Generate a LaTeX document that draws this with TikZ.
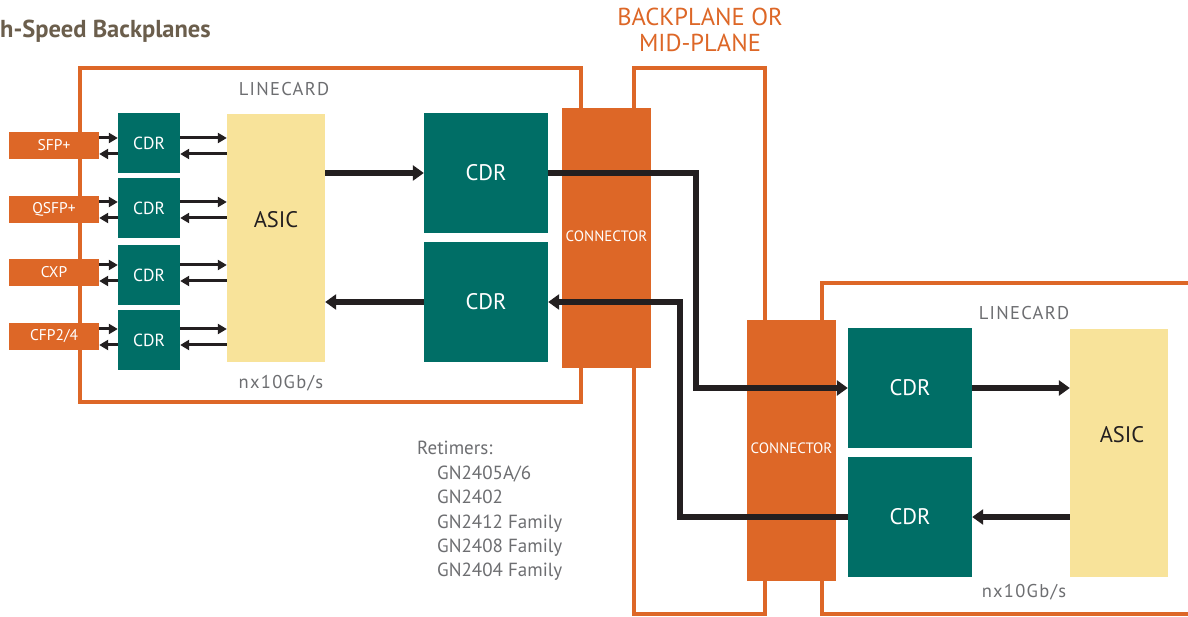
\documentclass[tikz,border=0pt]{standalone}
\usepackage{fontspec}
\setmainfont{PT Sans}
\newfontfamily\trk[LetterSpace=7]{PT Sans}
\usetikzlibrary{arrows.meta}
\definecolor{orng}{RGB}{221,103,39}
\definecolor{tealc}{RGB}{0,110,102}
\definecolor{asicy}{RGB}{248,227,154}
\definecolor{arrk}{RGB}{35,31,32}
\definecolor{gtxt}{RGB}{109,110,113}
\definecolor{ttl}{RGB}{107,94,76}
\begin{document}
\begin{tikzpicture}[x=1pt,y=-1pt,
  outl/.style={draw=orng, line width=4pt},
  port/.style={fill=orng, text=white, minimum width=90pt, minimum height=27pt, inner sep=0pt, font=\fontsize{15.5}{17}\selectfont},
  scdr/.style={fill=tealc, text=white, minimum width=62pt, minimum height=60pt, inner sep=0pt, font=\fontsize{17.5}{20}\selectfont},
  bcdr/.style={fill=tealc, text=white, minimum width=124pt, minimum height=120pt, inner sep=0pt, font=\fontsize{22.5}{26}\selectfont},
  asicbox/.style={fill=asicy, minimum width=98pt, minimum height=248pt, inner sep=0pt},
  asictxt/.style={text=arrk, font=\fontsize{22.5}{26}\selectfont, inner sep=0pt},
  conn/.style={fill=orng, text=white, minimum width=89pt, minimum height=260pt, inner sep=0pt, font=\fontsize{15}{16}\selectfont},
  sarr/.style={draw=arrk, line width=3pt, -{Triangle[length=9pt,width=10pt]}},
  barr/.style={draw=arrk, line width=6.5pt, -{Triangle[length=11pt,width=15pt]}},
  gtext/.style={text=gtxt, inner sep=0pt, font=\trk\fontsize{18.5}{20}\selectfont},
  rtext/.style={text=gtxt, inner sep=0pt, anchor=base west, font=\fontsize{19}{21}\selectfont},
  otext/.style={text=orng, inner sep=0pt, font=\fontsize{24.5}{27}\selectfont}
]
\useasboundingbox (0,0) rectangle (1188,617);
\fill[white] (0,0) rectangle (1188,617);

% title
\node[text=ttl, inner sep=0pt, anchor=west, font=\bfseries\fontsize{24.5}{28}\selectfont] (title) at (0,31) {h-Speed Backplanes};

% outlines
\draw[outl] (581,108) -- (581,68) -- (80,68) -- (80,402) -- (581,402) -- (581,368);
\draw[outl] (634,108) -- (634,68) -- (765,68) -- (765,320);
\draw[outl] (634,368) -- (634,614) -- (765,614) -- (765,581);
\draw[outl] (1188,283) -- (822,283) -- (822,320);
\draw[outl] (822,581) -- (822,614) -- (1188,614);

% plane label
\node[otext] (bp1) at (700,17) {BACKPLANE OR};
\node[otext] (bp2) at (700,43) {MID-PLANE};

% connectors
\node[conn] (con1) at (606.5,238) {\raisebox{4pt}{CONNECTOR}};
\node[conn, minimum height=261pt] (con2) at (791.5,450.5) {\raisebox{4pt}{CONNECTOR}};

% left linecard
\node[gtext] (lc1) at (284,89) {LINECARD};
\node[gtext] (nx1) at (281,383) {nx10Gb/s};

\node[port] (p1) at (54,145.5) {SFP+};
\node[port] (p2) at (54,209.5) {QSFP+};
\node[port] (p3) at (54,272.5) {CXP};
\node[port] (p4) at (54,336.5) {CFP2/4};

\node[scdr] (c1) at (149,143) {CDR};
\node[scdr] (c2) at (149,208) {CDR};
\node[scdr] (c3) at (149,275) {CDR};
\node[scdr] (c4) at (149,340) {CDR};

\node[asicbox] (asicL) at (276,238) {};
\node[asictxt] (asicLt) at ([yshift=18pt]asicL.center) {ASIC};

\foreach \i in {1,2,3,4}{
  \coordinate (r\i) at ([yshift=7.5pt]p\i.east);
  \coordinate (l\i) at ([yshift=-8.5pt]p\i.east);
  \draw[sarr] (r\i) -- (r\i -| c\i.west);
  \draw[sarr] (l\i -| c\i.west) -- (l\i);
  \draw[sarr] (r\i -| c\i.east) -- (r\i -| asicL.west);
  \draw[sarr] (l\i -| asicL.west) -- (l\i -| c\i.east);
}

\node[bcdr] (cdrA) at (486,173) {CDR};
\node[bcdr] (cdrB) at (486,302) {CDR};

% right linecard
\node[gtext] (lc2) at (1024,313) {LINECARD};
\node[gtext] (nx2) at (1024,592) {nx10Gb/s};
\node[bcdr] (cdrC) at (910,388) {\raisebox{-3pt}{CDR}};
\node[bcdr] (cdrD) at (910,517) {CDR};
\node[asicbox] (asicR) at (1119,453) {};
\node[asictxt] (asicRt) at ([yshift=18pt,xshift=3pt]asicR.center) {ASIC};

% big arrows
\draw[barr] (asicL.east |- cdrA.west) -- (cdrA.west);
\draw[barr] (cdrB.west) -- (cdrB.west -| asicL.east);
\coordinate (jA) at (696,388);
\coordinate (jB) at (680,517);
\draw[barr] (cdrA.east) -| (jA) -- (cdrC.west);
\draw[barr] (cdrD.west) -- (jB) |- (cdrB.east);
\draw[barr] (cdrC.east) -- (cdrC.east -| asicR.west);
\draw[barr] (asicR.west |- cdrD.east) -- (cdrD.east);

% retimers
\node[rtext] (rt0) at (417,454) {Retimers:};
\node[rtext] (rt1) at (437,479) {GN2405A/6};
\node[rtext] (rt2) at (437,503) {GN2402};
\node[rtext] (rt3) at (437,528) {GN2412 Family};
\node[rtext] (rt4) at (437,552) {GN2408 Family};
\node[rtext] (rt5) at (437,576) {GN2404 Family};
\end{tikzpicture}
\end{document}
